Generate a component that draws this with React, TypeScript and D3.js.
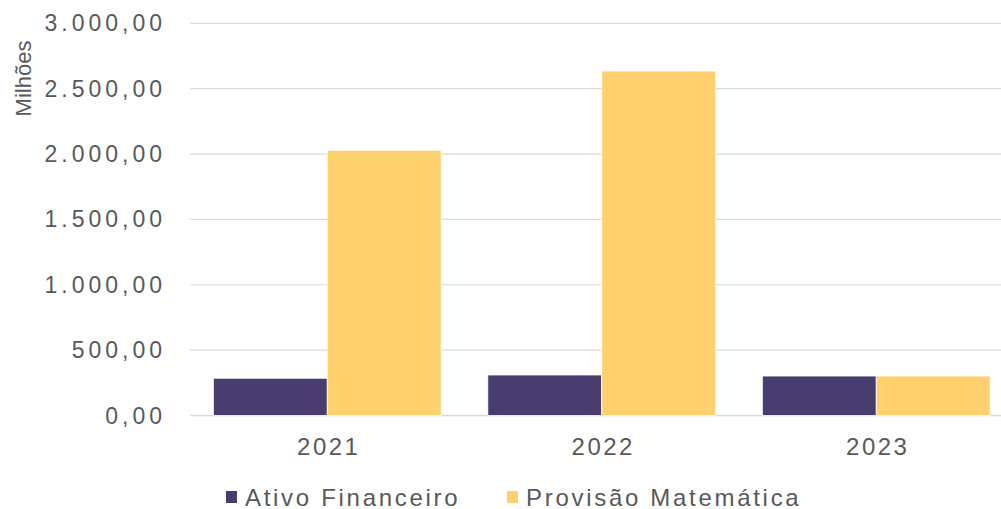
import React from "react";
import * as d3 from "d3";

const categories = ["2021", "2022", "2023"];
const ativoFinanceiro = [285, 310, 302];
const provisaoMatematica = [2029, 2635, 302];
const seriesNames = ["Ativo Financeiro", "Provisão Matemática"];
const yTicks = [0, 500, 1000, 1500, 2000, 2500, 3000];
const yAxisTitle = "Milhões";

const W = 1001;
const H = 509;
const colors = ["#483D6E", "#FED06E"];
const textColor = "#595959";
const font = "'Liberation Sans', Arial, sans-serif";

const locale = d3.formatLocale({ decimal: ",", thousands: ".", grouping: [3], currency: ["R$", ""] });
const fmt = locale.format(",.2f");

export default function App() {
  const left = 190;
  const right = 1013.5;
  const top = 23.3;
  const bottom = 415.5;

  const x0 = d3.scaleBand<string>().domain(categories).range([left, right]).paddingInner(0.17).paddingOuter(0.085);
  const x1 = d3.scaleBand<number>().domain([0, 1]).range([0, x0.bandwidth()]);
  const y = d3.scaleLinear().domain([0, 3000]).range([bottom, top]);

  const series = [ativoFinanceiro, provisaoMatematica];

  return (
    <svg width={W} height={H} style={{ position: "absolute", left: 0, top: 0, background: "#fff" }} fontFamily={font}>
      {yTicks.map((t) => (
        <line key={"g" + t} x1={left} x2={W} y1={y(t)} y2={y(t)} stroke="#D9D9D9" strokeWidth={t === 0 ? 1.5 : 1.2} />
      ))}
      {yTicks.map((t) => (
        <text key={"t" + t} x={166} y={y(t)} dy="0.35em" textAnchor="end" fontSize={23} letterSpacing={4} fill={textColor}>
          {fmt(t)}
        </text>
      ))}
      <text
        transform={`translate(31,78.5) rotate(-90)`}
        textAnchor="middle"
        fontSize={22}
        fill={textColor}
      >
        {yAxisTitle}
      </text>
      {categories.map((c, i) => (
        <g key={c}>
          {series.map((s, k) => (
            <rect
              key={k}
              x={(x0(c) as number) + (x1(k) as number)}
              y={y(s[i])}
              width={x1.bandwidth()}
              height={y(0) - y(s[i])}
              fill={colors[k]}
              stroke="#fff"
              strokeWidth={0.8}
            />
          ))}
          <text
            x={(x0(c) as number) + x0.bandwidth() / 2 + 1.5}
            y={455}
            textAnchor="middle"
            fontSize={24}
            letterSpacing={2.5}
            fill={textColor}
          >
            {c}
          </text>
        </g>
      ))}
      {[
        { sx: 226, tx: 245 },
        { sx: 507, tx: 526 },
      ].map((p, k) => (
        <g key={"l" + k}>
          <rect x={p.sx} y={491} width={11} height={12} fill={colors[k]} />
          <text x={p.tx} y={506} fontSize={24} letterSpacing={2.7} fill={textColor}>
            {seriesNames[k]}
          </text>
        </g>
      ))}
    </svg>
  );
}
